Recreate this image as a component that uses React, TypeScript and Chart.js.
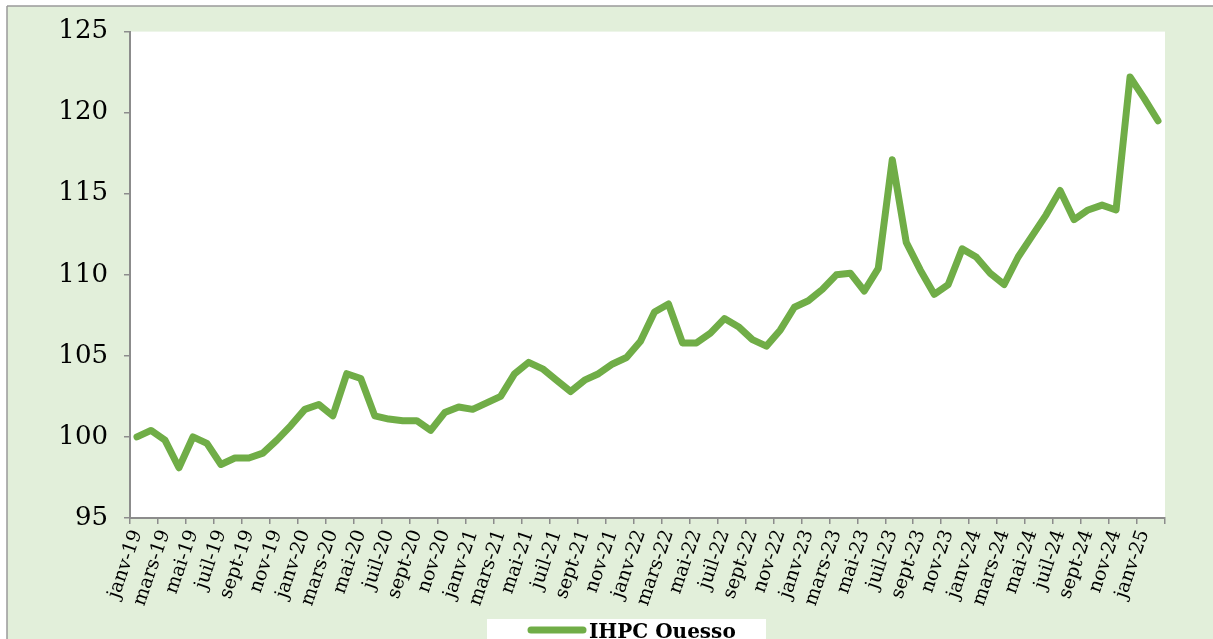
import React, { useEffect, useRef } from "react";
import { Chart, registerables } from "chart.js";

Chart.register(...registerables);

const months: string[] = [
  "janv-19", "févr-19", "mars-19", "avr-19", "mai-19", "juin-19", "juil-19", "août-19", "sept-19", "oct-19", "nov-19", "déc-19",
  "janv-20", "févr-20", "mars-20", "avr-20", "mai-20", "juin-20", "juil-20", "août-20", "sept-20", "oct-20", "nov-20", "déc-20",
  "janv-21", "févr-21", "mars-21", "avr-21", "mai-21", "juin-21", "juil-21", "août-21", "sept-21", "oct-21", "nov-21", "déc-21",
  "janv-22", "févr-22", "mars-22", "avr-22", "mai-22", "juin-22", "juil-22", "août-22", "sept-22", "oct-22", "nov-22", "déc-22",
  "janv-23", "févr-23", "mars-23", "avr-23", "mai-23", "juin-23", "juil-23", "août-23", "sept-23", "oct-23", "nov-23", "déc-23",
  "janv-24", "févr-24", "mars-24", "avr-24", "mai-24", "juin-24", "juil-24", "août-24", "sept-24", "oct-24", "nov-24", "déc-24",
  "janv-25", "févr-25",
];

const ihpcOuesso: number[] = [
  100.0, 100.4, 99.8, 98.1, 100.0, 99.6, 98.3, 98.7, 98.7, 99.0, 99.8, 100.7,
  101.7, 102.0, 101.3, 103.9, 103.6, 101.3, 101.1, 101.0, 101.0, 100.4, 101.5, 101.85,
  101.7, 102.1, 102.5, 103.9, 104.6, 104.2, 103.5, 102.8, 103.5, 103.9, 104.5, 104.9,
  105.9, 107.7, 108.2, 105.8, 105.8, 106.4, 107.3, 106.8, 106.0, 105.6, 106.6, 108.0,
  108.4, 109.1, 110.0, 110.1, 109.0, 110.4, 117.1, 112.0, 110.3, 108.8, 109.4, 111.6,
  111.1, 110.1, 109.4, 111.1, 112.4, 113.7, 115.2, 113.4, 114.0, 114.3, 114.0, 122.2,
  120.9, 119.5,
];

const seriesLabel = "IHPC Ouesso";
const yMin = 95;
const yMax = 125;
const yStep = 5;

const GREEN = "#70AD47";
const BG_GREEN = "#E2EFDA";
const AXIS_GRAY = "#8C8C8C";
const FONT = "'DejaVu Serif', serif";

const W = 1213;
const H = 639;

export default function App() {
  const canvasRef = useRef<HTMLCanvasElement | null>(null);

  useEffect(() => {
    const canvas = canvasRef.current;
    if (!canvas) return;

    const bgPlugin = {
      id: "bgPlugin",
      beforeDraw(chart: any) {
        const ctx = chart.ctx;
        const a = chart.chartArea;
        ctx.save();
        ctx.fillStyle = "#FFFFFF";
        ctx.fillRect(0, 0, W, H);
        ctx.fillStyle = BG_GREEN;
        ctx.fillRect(7, 6, W - 7, H - 6);
        ctx.strokeStyle = "#9A9A9A";
        ctx.lineWidth = 1.5;
        ctx.beginPath();
        ctx.moveTo(7, 6);
        ctx.lineTo(W, 6);
        ctx.moveTo(7, 6);
        ctx.lineTo(7, H);
        ctx.stroke();
        ctx.fillStyle = "#FFFFFF";
        ctx.fillRect(a.left, a.top, a.right - a.left, a.bottom - a.top);
        ctx.restore();
      },
    };

    const legendPlugin = {
      id: "legendPlugin",
      afterDraw(chart: any) {
        const ctx = chart.ctx;
        const label = chart.data.datasets[0].label;
        ctx.save();
        ctx.fillStyle = "#FFFFFF";
        ctx.fillRect(487, 619, 279, 30);
        ctx.strokeStyle = GREEN;
        ctx.lineWidth = 7;
        ctx.lineCap = "round";
        ctx.beginPath();
        ctx.moveTo(531, 630);
        ctx.lineTo(583, 630);
        ctx.stroke();
        ctx.fillStyle = "#000000";
        ctx.font = `bold 20px ${FONT}`;
        ctx.textBaseline = "alphabetic";
        ctx.textAlign = "left";
        ctx.fillText(label, 589, 638);
        ctx.restore();
      },
    };

    const chart = new Chart(canvas, {
      type: "line",
      data: {
        labels: months,
        datasets: [
          {
            label: seriesLabel,
            data: ihpcOuesso,
            borderColor: GREEN,
            backgroundColor: GREEN,
            borderWidth: 7,
            pointRadius: 0,
            pointHoverRadius: 0,
            tension: 0,
            borderCapStyle: "round",
            borderJoinStyle: "round",
            fill: false,
          },
        ],
      },
      options: {
        responsive: false,
        animation: false,
        devicePixelRatio: 1,
        layout: { padding: { left: 0, top: 31, right: 48, bottom: 0 } },
        plugins: {
          legend: { display: false },
          tooltip: { enabled: false },
          title: { display: false },
        },
        scales: {
          x: {
            type: "category",
            offset: true,
            grid: {
              offset: true,
              drawOnChartArea: false,
              drawTicks: true,
              tickLength: 6,
              lineWidth: 1.5,
              color: (ctx: any) =>
                ctx.index === undefined || ctx.index % 2 === 0 ? AXIS_GRAY : "rgba(0,0,0,0)",
            },
            border: { display: true, color: AXIS_GRAY, width: 2 },
            ticks: {
              autoSkip: false,
              maxRotation: 71,
              minRotation: 71,
              padding: 3,
              color: "#000000",
              font: { family: FONT, size: 19 },
              callback: (_v: any, i: number) => (i % 2 === 0 ? months[i] : ""),
            },
            afterFit: (scale: any) => {
              scale.height = 121;
            },
          },
          y: {
            type: "linear",
            min: yMin,
            max: yMax,
            grid: {
              drawOnChartArea: false,
              drawTicks: true,
              tickLength: 6,
              lineWidth: 1.5,
              color: AXIS_GRAY,
            },
            border: { display: true, color: AXIS_GRAY, width: 2 },
            ticks: {
              stepSize: yStep,
              padding: 16,
              color: "#000000",
              font: { family: FONT, size: 26 },
            },
            afterFit: (scale: any) => {
              scale.width = 130;
            },
          },
        },
      },
      plugins: [bgPlugin, legendPlugin],
    });

    return () => {
      chart.destroy();
    };
  }, []);

  return (
    <div style={{ position: "fixed", left: 0, top: 0, width: W, height: H, overflow: "hidden", background: "#fff" }}>
      <canvas ref={canvasRef} width={W} height={H} style={{ display: "block", width: W, height: H }} />
    </div>
  );
}
